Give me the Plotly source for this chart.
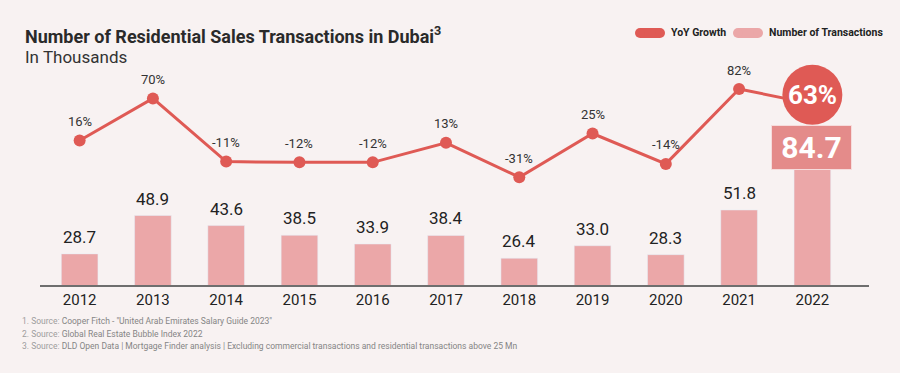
import plotly.graph_objects as go

years = ["2012", "2013", "2014", "2015", "2016", "2017", "2018", "2019", "2020", "2021", "2022"]
transactions = [28.7, 48.9, 43.6, 38.5, 33.9, 38.4, 26.4, 33.0, 28.3, 51.8, 84.7]
yoy_growth = [16, 70, -11, -12, -12, 13, -31, 25, -14, 82, 63]
footnotes = [
    ("1. Source:", "Cooper Fitch - \"United Arab Emirates Salary Guide 2023\""),
    ("2. Source:", "Global Real Estate Bubble Index 2022"),
    ("3. Source:", "DLD Open Data | Mortgage Finder analysis | Excluding commercial transactions and residential transactions above 25 Mn"),
]

W, H = 900, 373
L, R, T, B = 43, 51, 60, 87
PW, PH = W - L - R, H - T - B

def px(x):
    return (x - L) / PW

def py(y):
    return (H - B - y) / PH

BG = "#f8f2f2"
BAR = "#eba7a8"
BOX = "#e48b8a"
LINE = "#df5a55"
FONT = "Roboto"

fig = go.Figure()
fig.add_trace(go.Bar(x=years, y=transactions, marker_color=BAR, width=0.5,
                     yaxis="y", showlegend=False, hoverinfo="skip"))
fig.add_trace(go.Scatter(x=years[:-1], y=yoy_growth[:-1], yaxis="y2", mode="lines+markers",
                         line=dict(color=LINE, width=3), marker=dict(size=12, color=LINE),
                         showlegend=False, hoverinfo="skip"))
fig.add_trace(go.Scatter(x=years[-2:], y=yoy_growth[-2:], yaxis="y2", mode="lines",
                         line=dict(color=LINE, width=3), showlegend=False, hoverinfo="skip"))

annotations = []
shapes = []
n = len(years)
for i, v in enumerate(transactions):
    if i == n - 1:
        annotations.append(dict(x=i, y=v, xref="x", yref="y", text="<b>%.1f</b>" % v,
                                showarrow=False, font=dict(family=FONT, size=30, color="white"),
                                bgcolor=BOX, bordercolor="#f6dcdc", borderwidth=1,
                                width=77, height=41, yanchor="middle", xshift=-1))
    else:
        annotations.append(dict(x=i, y=v, xref="x", yref="y", text="%.1f" % v,
                                showarrow=False, yanchor="bottom", yshift=5,
                                font=dict(family=FONT, size=17, color="#222")))
for i, g in enumerate(yoy_growth):
    if i == n - 1:
        shapes.append(dict(type="circle", xref="x", yref="y2", xsizemode="pixel", ysizemode="pixel",
                           xanchor=i, yanchor=g, x0=-30, x1=30, y0=-21, y1=39,
                           fillcolor=LINE, line=dict(width=0), layer="above"))
        annotations.append(dict(x=i, y=g, xref="x", yref="y2", text="<b>%d%%</b>" % g,
                                showarrow=False, yshift=9, font=dict(family=FONT, size=26, color="white")))
    else:
        annotations.append(dict(x=i, y=g, xref="x", yref="y2", text="%d%%" % g,
                                showarrow=False, yshift=19, font=dict(family=FONT, size=13, color="#333")))

shapes.append(dict(type="line", xref="paper", yref="paper", x0=px(40), x1=px(869), y0=0, y1=0,
                   line=dict(color="#6e6e6e", width=2), layer="above"))

annotations.append(dict(xref="paper", yref="paper", x=px(23), y=py(35), xanchor="left", yanchor="middle",
                        text="<b>Number of Residential Sales Transactions in Dubai<sup>3</sup></b>",
                        showarrow=False, font=dict(family=FONT, size=18, color="#2a2a2a")))
annotations.append(dict(xref="paper", yref="paper", x=px(23), y=py(57), xanchor="left", yanchor="middle",
                        text="In Thousands", showarrow=False, font=dict(family=FONT, size=17, color="#333")))

def pill(x0, x1, yc, h, color):
    r = h / 2
    shapes.append(dict(type="rect", xref="paper", yref="paper", x0=px(x0 + r), x1=px(x1 - r),
                       y0=py(yc + r), y1=py(yc - r), fillcolor=color, line=dict(width=0)))
    for cx in (x0 + r, x1 - r):
        shapes.append(dict(type="circle", xref="paper", yref="paper", x0=px(cx - r), x1=px(cx + r),
                           y0=py(yc + r), y1=py(yc - r), fillcolor=color, line=dict(width=0)))

pill(635, 665, 33, 10, LINE)
pill(733, 763, 33, 10, BAR)
annotations.append(dict(xref="paper", yref="paper", x=px(669), y=py(33), xanchor="left", yanchor="middle",
                        text="<b>YoY Growth</b>", showarrow=False, font=dict(family=FONT, size=10.5, color="#222")))
annotations.append(dict(xref="paper", yref="paper", x=px(767), y=py(33), xanchor="left", yanchor="middle",
                        text="<b>Number of Transactions</b>", showarrow=False,
                        font=dict(family=FONT, size=10.5, color="#222")))

for k, (pre, txt) in enumerate(footnotes):
    annotations.append(dict(xref="paper", yref="paper", x=px(20), y=py(321 + 12.5 * k), xanchor="left",
                            yanchor="middle", showarrow=False,
                            text="<span style='color:#9d9d9d'>%s</span> <span style='color:#858585'>%s</span>" % (pre, txt),
                            font=dict(family=FONT, size=8.5, color="#999")))

fig.update_layout(
    width=W, height=H, margin=dict(l=L, r=R, t=T, b=B),
    paper_bgcolor=BG, plot_bgcolor=BG,
    xaxis=dict(type="category", range=[-0.5, 10.5], showgrid=False, showline=False, ticks="",
               ticklabelstandoff=3,
               tickfont=dict(family=FONT, size=15, color="#222"), zeroline=False),
    yaxis=dict(range=[11.8, 11.8 + PH / 1.9], visible=False, showgrid=False, zeroline=False),
    yaxis2=dict(range=[(153 - (H - B)) / 0.78, (153 - T) / 0.78], overlaying="y", visible=False,
                showgrid=False, zeroline=False),
    annotations=annotations, shapes=shapes, bargap=0.5,
)
fig.write_html("out.html", config={"displayModeBar": False},
               post_script="document.body.style.margin='0';document.body.style.overflow='hidden';")
